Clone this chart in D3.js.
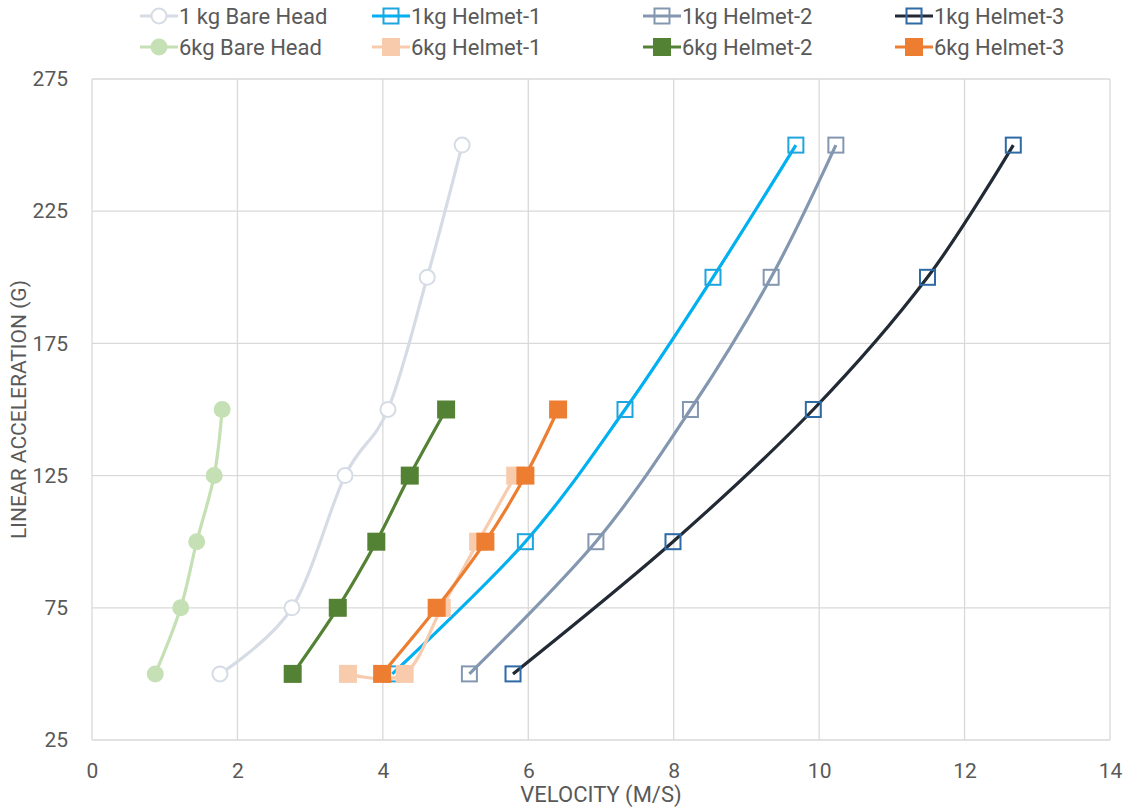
<!DOCTYPE html>
<html>
<head>
<meta charset="utf-8">
<script src="https://cdn.jsdelivr.net/npm/d3@7"></script>
<style>
  body { margin: 0; background: #fff; }
  svg text { font-family: Roboto, "Noto Sans", sans-serif; fill: #595959; }
</style>
</head>
<body>
<div id="chart"></div>
<script>
// series names in legend order
const seriesNames = ["1 kg Bare Head", "1kg Helmet-1", "1kg Helmet-2", "1kg Helmet-3",
                     "6kg Bare Head", "6kg Helmet-1", "6kg Helmet-2", "6kg Helmet-3"];

// velocity (m/s) per series
const vel1kgBare = [1.76, 2.75, 3.48, 4.07, 4.61, 5.09];
const vel1kgH1   = [4.13, 5.96, 7.33, 8.54, 9.68];
const vel1kgH2   = [5.19, 6.93, 8.23, 9.34, 10.23];
const vel1kgH3   = [5.79, 7.99, 9.92, 11.49, 12.67];
const vel6kgBare = [0.87, 1.22, 1.44, 1.68, 1.79];
const vel6kgH1   = [3.52, 4.30, 4.81, 5.31, 5.82];
const vel6kgH2   = [2.76, 3.38, 3.91, 4.37, 4.87];
const vel6kgH3   = [3.99, 4.74, 5.41, 5.96, 6.41];

// linear acceleration (g) per series
const acc1kgBare = [50, 75, 125, 150, 200, 250];
const acc1kgH    = [50, 100, 150, 200, 250];
const acc6kgBare = [50, 75, 100, 125, 150];
const acc6kgH1   = [50, 50, 75, 100, 125];
const acc6kgH    = [50, 75, 100, 125, 150];

const xTicks = [0, 2, 4, 6, 8, 10, 12, 14];
const yTicks = [25, 75, 125, 175, 225, 275];

const series = [
  { name: seriesNames[0], v: vel1kgBare, a: acc1kgBare, line: "#D6DCE5", mark: "#D6DCE5", shape: "circle", filled: false },
  { name: seriesNames[1], v: vel1kgH1, a: acc1kgH, line: "#00B0F0", mark: "#1FA5DE", shape: "square", filled: false },
  { name: seriesNames[2], v: vel1kgH2, a: acc1kgH, line: "#8497B0", mark: "#8497B0", shape: "square", filled: false },
  { name: seriesNames[3], v: vel1kgH3, a: acc1kgH, line: "#222A35", mark: "#2E6AA6", shape: "square", filled: false },
  { name: seriesNames[4], v: vel6kgBare, a: acc6kgBare, line: "#C5E0B4", mark: "#C5E0B4", shape: "circle", filled: true },
  { name: seriesNames[5], v: vel6kgH1, a: acc6kgH1, line: "#F8CBAD", mark: "#F8CBAD", shape: "square", filled: true },
  { name: seriesNames[6], v: vel6kgH2, a: acc6kgH, line: "#548235", mark: "#548235", shape: "square", filled: true },
  { name: seriesNames[7], v: vel6kgH3, a: acc6kgH, line: "#ED7D31", mark: "#ED7D31", shape: "square", filled: true }
];

const width = 1133, height = 807;
const margin = { top: 79, right: 23, bottom: 67, left: 92 };

const svg = d3.select("#chart").append("svg")
  .attr("width", width).attr("height", height);

const x = d3.scaleLinear().domain([0, 14]).range([margin.left, width - margin.right]);
const y = d3.scaleLinear().domain([25, 275]).range([height - margin.bottom, margin.top]);

// gridlines
svg.append("g").selectAll("line").data(xTicks).enter().append("line")
  .attr("x1", d => x(d)).attr("x2", d => x(d))
  .attr("y1", y(25)).attr("y2", y(275))
  .attr("stroke", "#D9D9D9").attr("stroke-width", 1.3);
svg.append("g").selectAll("line").data(yTicks).enter().append("line")
  .attr("x1", x(0)).attr("x2", x(14))
  .attr("y1", d => y(d)).attr("y2", d => y(d))
  .attr("stroke", "#D9D9D9").attr("stroke-width", 1.3);

// axes (labels only)
const xAxis = svg.append("g").attr("transform", `translate(0, ${y(25)})`)
  .call(d3.axisBottom(x).tickValues(xTicks).tickSize(0).tickPadding(23));
xAxis.select(".domain").remove();
xAxis.selectAll("text").style("font-size", "21px").attr("fill", "#595959");

const yAxis = svg.append("g").attr("transform", `translate(${x(0)}, 0)`)
  .call(d3.axisLeft(y).tickValues(yTicks).tickSize(0).tickPadding(24));
yAxis.select(".domain").remove();
yAxis.selectAll("text").style("font-size", "21px").attr("fill", "#595959");

// axis titles
svg.append("text").attr("x", (x(0) + x(14)) / 2).attr("y", 802)
  .attr("text-anchor", "middle").style("font-size", "22px").text("VELOCITY (M/S)");
svg.append("text").attr("transform", `translate(26, ${(y(25) + y(275)) / 2}) rotate(-90)`)
  .attr("text-anchor", "middle").style("font-size", "21px").text("LINEAR ACCELERATION (G)");

const lineGen = d3.line().curve(d3.curveCardinal.tension(0))
  .x(d => x(d[0])).y(d => y(d[1]));

function drawMarker(g, cx, cy, s) {
  if (s.shape === "circle") {
    g.append("circle").attr("cx", cx).attr("cy", cy).attr("r", s.filled ? 8.5 : 7.5)
      .attr("fill", s.filled ? s.mark : "#fff")
      .attr("stroke", s.mark).attr("stroke-width", s.filled ? 0 : 2);
  } else {
    const sz = s.filled ? 18 : 15;
    g.append("rect").attr("x", cx - sz / 2).attr("y", cy - sz / 2)
      .attr("width", sz).attr("height", sz)
      .attr("fill", s.filled ? s.mark : "none")
      .attr("stroke", s.mark).attr("stroke-width", s.filled ? 0 : 2);
  }
}

const plot = svg.append("g");
series.forEach(s => {
  const pts = s.v.map((v, i) => [v, s.a[i]]);
  const g = plot.append("g");
  g.append("path").datum(pts).attr("d", lineGen)
    .attr("fill", "none").attr("stroke", s.line).attr("stroke-width", 3.2);
  pts.forEach(p => drawMarker(g, x(p[0]), y(p[1]), s));
});

// legend
const legendCols = [140, 372, 643, 895];
const legendRows = [16, 47];
series.forEach((s, i) => {
  const lx = legendCols[i % 4], ly = legendRows[Math.floor(i / 4)];
  const g = svg.append("g");
  g.append("line").attr("x1", lx).attr("x2", lx + 38).attr("y1", ly).attr("y2", ly)
    .attr("stroke", s.line).attr("stroke-width", 3.2);
  drawMarker(g, lx + 19, ly, s);
  g.append("text").attr("x", lx + 39).attr("y", ly + 8).style("font-size", "22px").text(s.name);
});
</script>
</body>
</html>
